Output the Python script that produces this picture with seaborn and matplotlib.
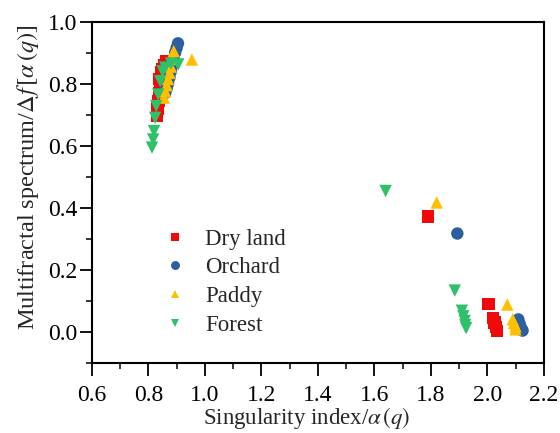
import numpy as np
import pandas as pd
import matplotlib
matplotlib.use("Agg")
import matplotlib.pyplot as plt
import seaborn as sns
from matplotlib.ticker import MultipleLocator

categories = ["Dry land", "Orchard", "Paddy", "Forest"]

dry_x = [0.830, 0.833, 0.836, 0.840, 0.842, 0.838, 0.845, 0.850, 0.855, 0.862,
         1.79, 2.005, 2.02, 2.025, 2.03, 2.035]
dry_y = [0.695, 0.720, 0.745, 0.770, 0.790, 0.815, 0.838, 0.848, 0.860, 0.872,
         0.372, 0.090, 0.045, 0.030, 0.015, 0.003]

orchard_x = [0.860, 0.865, 0.870, 0.875, 0.880, 0.885, 0.890, 0.895, 0.900, 0.905,
             1.894, 2.11, 2.115, 2.12, 2.125]
orchard_y = [0.770, 0.785, 0.800, 0.820, 0.840, 0.860, 0.880, 0.900, 0.915, 0.930,
             0.317, 0.040, 0.025, 0.012, 0.004]

paddy_x = [0.855, 0.860, 0.865, 0.870, 0.875, 0.880, 0.885, 0.890, 0.954,
           1.821, 2.071, 2.09, 2.095, 2.10, 2.10]
paddy_y = [0.755, 0.775, 0.795, 0.815, 0.835, 0.855, 0.880, 0.905, 0.878,
           0.417, 0.088, 0.040, 0.028, 0.018, 0.008]

forest_x = [0.813, 0.817, 0.820, 0.824, 0.828, 0.835, 0.842, 0.850, 0.860, 0.880, 0.906,
            1.640, 1.885, 1.910, 1.915, 1.920, 1.922, 1.925]
forest_y = [0.594, 0.620, 0.647, 0.690, 0.728, 0.765, 0.808, 0.840, 0.852, 0.865, 0.862,
            0.454, 0.133, 0.068, 0.050, 0.035, 0.022, 0.012]

colors = ["#f00a0a", "#2b5f9f", "#ffbf00", "#2fc06a"]
markers = ["s", "o", "^", "v"]

frames = []
for name, xs, ys in zip(categories,
                        [dry_x, orchard_x, paddy_x, forest_x],
                        [dry_y, orchard_y, paddy_y, forest_y]):
    frames.append(pd.DataFrame({"alpha": xs, "f": ys, "type": name}))
df = pd.concat(frames, ignore_index=True)

sns.set_style("white")
plt.rcParams["font.family"] = ["Liberation Serif", "DejaVu Serif"]
plt.rcParams["mathtext.fontset"] = "stix"

fig = plt.figure(figsize=(5.6, 4.33), dpi=100)
ax = fig.add_axes([0.164, 0.162, 0.807, 0.788])

sns.scatterplot(data=df, x="alpha", y="f", hue="type", style="type",
                hue_order=categories, style_order=categories,
                palette=dict(zip(categories, colors)),
                markers=dict(zip(categories, markers)),
                s=80, linewidth=0, edgecolor="none", ax=ax, legend=True)

ax.set_xlim(0.6, 2.2)
ax.set_ylim(-0.1, 1.0)
ax.xaxis.set_major_locator(MultipleLocator(0.2))
ax.xaxis.set_minor_locator(MultipleLocator(0.1))
ax.yaxis.set_major_locator(MultipleLocator(0.2))
ax.yaxis.set_minor_locator(MultipleLocator(0.1))
ax.set_yticks([0.0, 0.2, 0.4, 0.6, 0.8, 1.0])
ax.set_xticklabels([f"{v:.1f}" for v in ax.get_xticks()])
ax.set_yticklabels([f"{v:.1f}" for v in ax.get_yticks()])

ax.tick_params(axis="both", which="major", direction="out", length=9, width=1.3,
               labelsize=17, color="black", labelcolor="black",
               bottom=True, left=True, top=False, right=False)
ax.tick_params(axis="x", which="major", pad=7)
ax.tick_params(axis="y", which="major", pad=1.5)
ax.tick_params(axis="both", which="minor", direction="out", length=4.5, width=1.3,
               bottom=True, left=True, top=False, right=False)
for sp in ax.spines.values():
    sp.set_linewidth(1.5)
    sp.set_color("black")

ax.set_xlabel(r"Singularity index/$\alpha\,(q)$", fontsize=16.5)
ax.set_ylabel(r"Multifractal spectrum/$\Delta f\,[\alpha\,(q)]$", fontsize=17.5)
ax.xaxis.set_label_coords(0.476, -0.124)
ax.yaxis.set_label_coords(-0.112, 0.543)

leg = ax.legend(loc="upper left", bbox_to_anchor=(0.139, 0.42), frameon=False,
                fontsize=16.5, labelspacing=0.33, handlelength=1.0,
                handletextpad=0.8, markerscale=0.72, borderaxespad=0)

fig.savefig("out.png", dpi=100)
